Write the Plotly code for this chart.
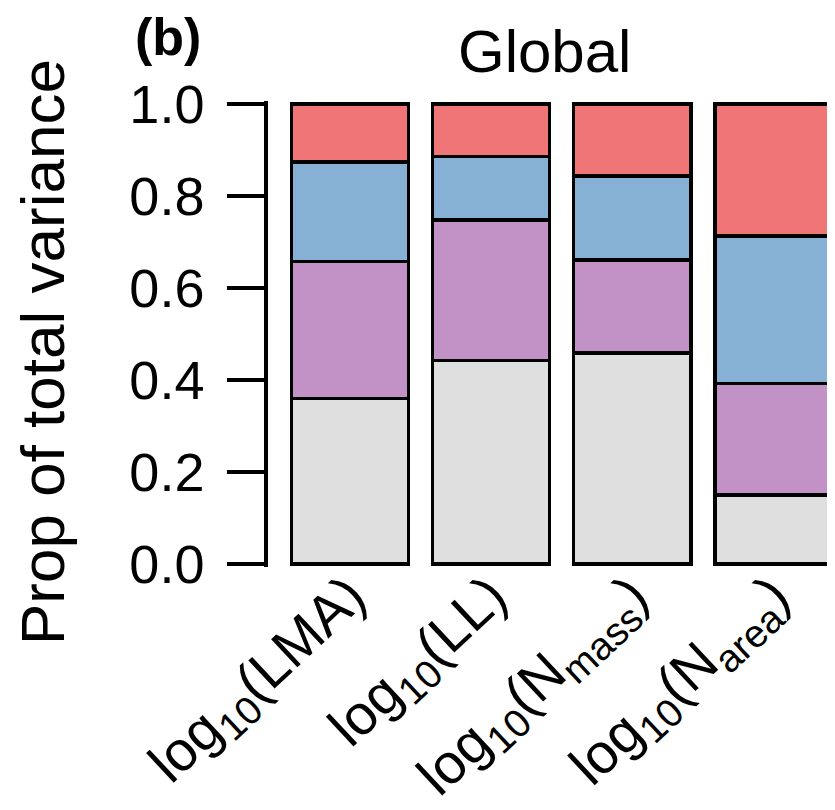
import plotly.graph_objects as go

# ---- data ----
categories = ["log<sub>10</sub>(LMA)", "log<sub>10</sub>(LL)",
              "log<sub>10</sub>(N<sub>mass</sub>)", "log<sub>10</sub>(N<sub>area</sub>)"]
comp_grey = [0.360, 0.443, 0.459, 0.150]
comp_purple = [0.297, 0.305, 0.202, 0.243]
comp_blue = [0.217, 0.137, 0.182, 0.320]
comp_red = [0.126, 0.115, 0.157, 0.287]
y_ticks = [0.0, 0.2, 0.4, 0.6, 0.8, 1.0]

series = [
    ("Component 1", comp_grey, "#DFDFDF"),
    ("Component 2", comp_purple, "#C292C7"),
    ("Component 3", comp_blue, "#86B0D4"),
    ("Component 4", comp_red, "#F07577"),
]

FONT = "Liberation Sans, Arial, Helvetica, sans-serif"

fig = go.Figure()
for name, vals, col in series:
    fig.add_trace(go.Bar(
        x=categories, y=vals, name=name, width=0.83,
        marker=dict(color=col, line=dict(color="black", width=3.5)),
        showlegend=False,
    ))

OFF = 8  # page body margin
W, H = 835 - OFF, 810 - OFF
L, R, T, B = 268 - OFF, 0, 101 - OFF, 243
pw, ph = W - L - R, H - T - B

def px(x):  # page pixel -> paper x
    return (x - OFF - L) / pw

def py(y):  # page pixel -> paper y
    return (H - B - (y - OFF)) / ph

fig.update_layout(
    width=W, height=H,
    margin=dict(l=L, r=R, t=T, b=B, autoexpand=False),
    barmode="stack",
    plot_bgcolor="white", paper_bgcolor="white",
    font=dict(family=FONT, color="black"),
    xaxis=dict(
        type="category", range=[-0.58, 3.435], showline=False, ticks="",
        showgrid=False, zeroline=False, tickangle=-43,
        tickfont=dict(size=56, family=FONT, color="black"),
        ticklabelstandoff=-16,
    ),
    yaxis=dict(
        range=[-0.006, 1.006], tickvals=y_ticks, tickformat=".1f",
        showline=True, linewidth=3.5, linecolor="black",
        ticks="outside", ticklen=37, tickwidth=3.5, tickcolor="black",
        showgrid=False, zeroline=False,
        tickfont=dict(size=54, family=FONT, color="black"),
        ticklabelstandoff=12,
    ),
    annotations=[
        dict(text="Global", x=px(544), y=py(52), xref="paper", yref="paper",
             xanchor="center", yanchor="middle", showarrow=False,
             font=dict(size=60, family=FONT, color="black")),
        dict(text="<b>(b)</b>", x=px(168), y=py(37), xref="paper", yref="paper",
             xanchor="center", yanchor="middle", showarrow=False,
             font=dict(size=52, family=FONT, color="black")),
        dict(text="Prop of total variance", x=px(42), y=py(352), xref="paper", yref="paper",
             xanchor="center", yanchor="middle", showarrow=False, textangle=-90,
             font=dict(size=62, family=FONT, color="black")),
    ],
)

fig.write_html("out.html")
